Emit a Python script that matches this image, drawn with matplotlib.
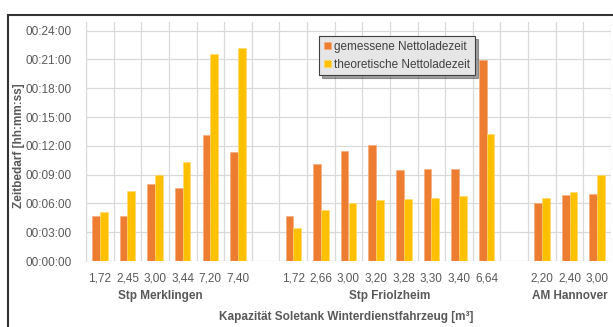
import matplotlib.pyplot as plt
import numpy as np
from matplotlib.patches import Rectangle

# Ladezeiten je Standort (hh:mm:ss)
kapazitaet = ['1,72', '2,45', '3,00', '3,44', '7,20', '7,40', '',
              '1,72', '2,66', '3,00', '3,20', '3,28', '3,30', '3,40', '6,64', '',
              '2,20', '2,40', '3,00']
gemessen = ['00:04:44', '00:04:44', '00:08:00', '00:07:39', '00:13:09', '00:11:24', None,
            '00:04:42', '00:10:06', '00:11:27', '00:12:03', '00:09:30', '00:09:32', '00:09:36', '00:20:57', None,
            '00:06:03', '00:06:54', '00:07:00']
theoretisch = ['00:05:06', '00:07:18', '00:08:59', '00:10:16', '00:21:34', '00:22:10', None,
               '00:03:24', '00:05:18', '00:06:00', '00:06:22', '00:06:30', '00:06:34', '00:06:47', '00:13:15', None,
               '00:06:34', '00:07:10', '00:08:59']
standorte = ['Stp Merklingen', 'Stp Friolzheim', 'AM Hannover']
standort_pos = [2.2, 10.5, 17.0]


def in_minuten(t):
    if t is None:
        return np.nan
    h, m, s = [int(v) for v in t.split(':')]
    return h * 60 + m + s / 60


def als_zeit(v, pos=None):
    v = int(round(v * 60))
    return '%02d:%02d:%02d' % (v // 3600, (v % 3600) // 60, v % 60)


plt.rcParams['font.family'] = ['Liberation Sans', 'DejaVu Sans']
grau = '#595959'
orange = '#ED7D31'
gelb = '#FFC000'

y1 = np.array([in_minuten(t) for t in gemessen])
y2 = np.array([in_minuten(t) for t in theoretisch])
x = np.arange(len(kapazitaet))
b = 0.28

fig = plt.figure(figsize=(6.13, 3.27), dpi=100)
ax = fig.add_axes([86 / 613, 1 - 261 / 327, 525 / 613, 239 / 327])

ax.bar(x - b / 2, y1, width=b, color=orange, edgecolor='#f5a877', linewidth=0.4,
       label='gemessene Nettoladezeit', zorder=3)
ax.bar(x + b / 2, y2, width=b, color=gelb, edgecolor='#ffd966', linewidth=0.4,
       label='theoretische Nettoladezeit', zorder=3)

ax.set_xlim(-0.5, len(x) - 0.5)
ax.set_ylim(0, 24.9)
ax.set_yticks(np.arange(0, 25, 3))
ax.yaxis.set_major_formatter(plt.FuncFormatter(als_zeit))
ax.set_xticks(x)
ax.set_xticklabels(kapazitaet)
ax.set_xticks(np.arange(-0.5, len(x), 1), minor=True)
ax.tick_params(axis='both', which='both', length=0, labelsize=8.5, colors=grau)
ax.tick_params(axis='x', pad=8)
ax.tick_params(axis='y', pad=10)
ax.grid(True, axis='y', color='#d9d9d9', lw=0.9, zorder=0)
ax.grid(True, axis='x', which='minor', color='#d9d9d9', lw=0.9, zorder=0)
for s in ['top', 'right', 'bottom']:
    ax.spines[s].set_visible(False)
ax.spines['left'].set_color('#d9d9d9')

for name, p in zip(standorte, standort_pos):
    ax.text(p, -0.145, name, transform=ax.get_xaxis_transform(), ha='center', va='center',
            fontsize=8.5, fontweight='bold', color=grau)

fig.text(346 / 613, 1 - 317 / 327, 'Kapazität Soletank Winterdienstfahrzeug [m³]',
         ha='center', va='center', fontsize=8.5, fontweight='bold', color=grau)
fig.text(19 / 613, 1 - 146 / 327, 'Zeitbedarf [hh:mm:ss]', rotation=90,
         ha='center', va='center', fontsize=8.5, fontweight='bold', color=grau)

leg = ax.legend(loc='upper left', bbox_to_anchor=(319 / 613, 1 - 36 / 327),
                bbox_transform=fig.transFigure, fontsize=8.5, frameon=True, fancybox=False,
                shadow=True, handlelength=0.6, handleheight=0.6, handletextpad=0.3,
                borderpad=0.4, labelspacing=0.5, borderaxespad=0)
leg.get_frame().set_facecolor('#e7e6e6')
leg.get_frame().set_edgecolor('#404040')
leg.get_frame().set_linewidth(0.8)
for t in leg.get_texts():
    t.set_color('#404040')

# Rahmen des Diagrammbereichs
fig.patches.append(Rectangle((8 / 613, -0.1), 1.2, 1 - 15 / 327 + 0.1, transform=fig.transFigure,
                             fill=False, edgecolor='#333333', linewidth=1.5))

fig.savefig('out.png', dpi=100)
